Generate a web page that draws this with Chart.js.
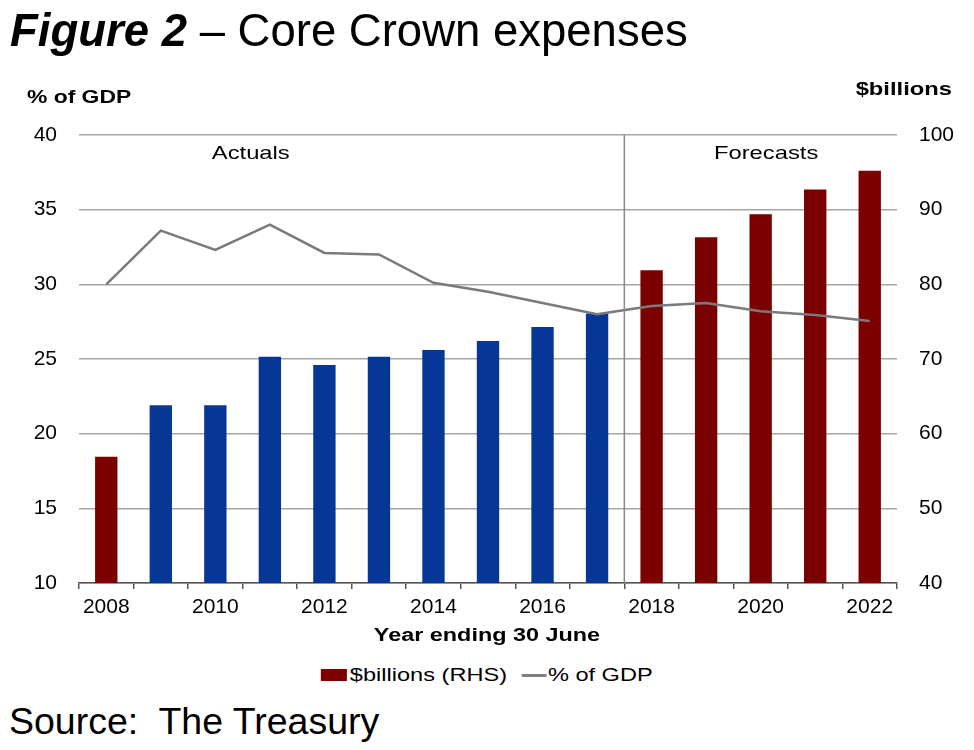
<!DOCTYPE html>
<html>
<head>
<meta charset="utf-8">
<script src="https://cdn.jsdelivr.net/npm/chart.js@4"></script>
<style>
  body { margin: 0; background: #fff; font-family: "Liberation Sans", Arial, sans-serif; }
  #wrap { position: relative; width: 974px; height: 750px; }
  #chart { position: absolute; left: 0; top: 0; }
  .txt { position: absolute; white-space: nowrap; color: #000; }
  #title { left: 10px; top: 5px; font-size: 45.5px; }
  #title b { font-style: italic; }
  #lhs { left: 27px; top: 87px; font-size: 18px; font-weight: bold; transform: scaleX(1.27); transform-origin: left center; }
  #rhs { right: 22px; top: 79px; font-size: 18px; font-weight: bold; transform: scaleX(1.32); transform-origin: right center; }
  #xtitle { left: 0; width: 974px; text-align: center; top: 625px; font-size: 18px; font-weight: bold; transform: scaleX(1.3); transform-origin: 487px center; }
  #legend { left: 0; width: 974px; top: 664px; display: flex; justify-content: center; align-items: center; font-size: 19px; transform: scaleX(1.24); transform-origin: 487px center; }
  #legend .sw { display: inline-block; width: 21px; height: 12px; background: #7b0000; margin-right: 2px; }
  #legend .ln { display: inline-block; width: 20px; height: 3px; background: #808080; margin: 0 1px 0 12px; }
  #source { left: 9px; top: 700px; font-size: 37.5px; }
</style>
</head>
<body>
<div id="wrap">
  <canvas id="chart" width="974" height="660"></canvas>
  <div class="txt" id="title"><b>Figure 2</b> – Core Crown expenses</div>
  <div class="txt" id="lhs">% of GDP</div>
  <div class="txt" id="rhs">$billions</div>
  <div class="txt" id="xtitle">Year ending 30 June</div>
  <div class="txt" id="legend"><span class="sw"></span>$billions (RHS)<span class="ln"></span>% of GDP</div>
  <div class="txt" id="source">Source:&nbsp; The Treasury</div>
</div>
<script>
const years = ['2008', '2009', '2010', '2011', '2012', '2013', '2014', '2015',
  '2016', '2017', '2018', '2019', '2020', '2021', '2022'];
const billions = [56.9, 63.8, 63.8, 70.3, 69.2, 70.3, 71.2, 72.4, 74.3, 76.1,
  81.9, 86.3, 89.4, 92.7, 95.2];
const pctGdp = [30.0, 33.6, 32.3, 34.0, 32.1, 32.0, 30.1, 29.5, 28.75, 28.0,
  28.55, 28.75, 28.2, 27.95, 27.55];
const actualYears = ['2009', '2010', '2011', '2012', '2013', '2014', '2015', '2016', '2017'];
const splitAfter = '2017';

const RED = '#7b0000';
const BLUE = '#063797';

// stretched text, the source chart's fonts are wide
function wideText(ctx, text, x, y, sx) {
  ctx.save();
  ctx.translate(x, y);
  ctx.scale(sx, 1);
  ctx.fillText(text, 0, 0);
  ctx.restore();
}

// divider between actuals and forecasts, plus the two labels
const dividerPlugin = {
  id: 'divider',
  afterDatasetsDraw(chart) {
    const x = chart.scales.x;
    const area = chart.chartArea;
    const i = years.indexOf(splitAfter);
    const px = (x.getPixelForValue(i) + x.getPixelForValue(i + 1)) / 2;
    const step = x.getPixelForValue(1) - x.getPixelForValue(0);
    const ctx = chart.ctx;
    ctx.save();
    ctx.strokeStyle = '#8a8a8a';
    ctx.lineWidth = 1.5;
    ctx.beginPath();
    ctx.moveTo(px, area.top);
    ctx.lineTo(px, area.bottom);
    ctx.stroke();
    ctx.fillStyle = '#000';
    ctx.font = '19px "Liberation Sans", Arial, sans-serif';
    ctx.textAlign = 'center';
    ctx.textBaseline = 'middle';
    wideText(ctx, 'Actuals', x.getPixelForValue(2) + 0.65 * step, area.top + 19, 1.25);
    wideText(ctx, 'Forecasts', x.getPixelForValue(12) + 0.1 * step, area.top + 19, 1.25);
    ctx.restore();
  }
};

const tickFont = { family: '"Liberation Sans", Arial, sans-serif', size: 21 };

new Chart(document.getElementById('chart'), {
  type: 'bar',
  data: {
    labels: years,
    datasets: [
      {
        type: 'line',
        label: '% of GDP',
        data: pctGdp,
        yAxisID: 'y',
        borderColor: '#7a7a7a',
        borderWidth: 2.5,
        pointRadius: 0,
        tension: 0,
        order: 0
      },
      {
        label: '$billions (RHS)',
        data: billions,
        yAxisID: 'y1',
        backgroundColor: years.map(y => actualYears.includes(y) ? BLUE : RED),
        categoryPercentage: 1,
        barPercentage: 0.41,
        order: 1
      }
    ]
  },
  options: {
    responsive: false,
    animation: false,
    layout: { padding: { top: 135, left: 0, right: 0, bottom: 0 } },
    plugins: { legend: { display: false }, tooltip: { enabled: false } },
    scales: {
      x: {
        offset: true,
        grid: { drawOnChartArea: false, drawTicks: true, tickLength: 6, color: '#555', lineWidth: 1.5, offset: true },
        border: { color: '#555', width: 1.5 },
        ticks: {
          color: '#000', font: tickFont, maxRotation: 0, autoSkip: false, padding: 6,
          callback: (v, i) => i % 2 === 0 ? years[i] : ''
        },
        afterFit: s => { s.height = 660 - 583; }
      },
      y: {
        position: 'left',
        min: 10, max: 40,
        ticks: { stepSize: 5, color: '#000', font: tickFont, padding: 22 },
        grid: { color: '#a6a6a6', lineWidth: 1.5, drawTicks: false },
        border: { display: false },
        afterFit: s => { s.width = 79; }
      },
      y1: {
        position: 'right',
        min: 40, max: 100,
        ticks: { stepSize: 10, color: '#000', font: tickFont, padding: 22 },
        grid: { drawOnChartArea: false, drawTicks: false },
        border: { display: false },
        afterFit: s => { s.width = 974 - 897; }
      }
    }
  },
  plugins: [dividerPlugin]
});
</script>
</body>
</html>
